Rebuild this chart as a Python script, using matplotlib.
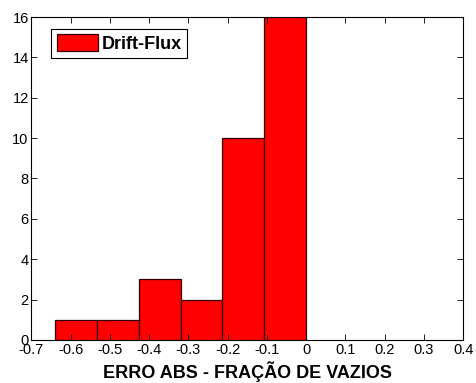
import matplotlib
matplotlib.use("Agg")
import matplotlib.pyplot as plt
import numpy as np

bin_edges = [-0.641, -0.534, -0.427, -0.320, -0.214, -0.107, 0.0]
counts = [1, 1, 3, 2, 10, 16]
xticks = [-0.7, -0.6, -0.5, -0.4, -0.3, -0.2, -0.1, 0, 0.1, 0.2, 0.3, 0.4]
xticklabels = ["-0.7", "-0.6", "-0.5", "-0.4", "-0.3", "-0.2", "-0.1", "0", "0.1", "0.2", "0.3", "0.4"]
yticks = [0, 2, 4, 6, 8, 10, 12, 14, 16]

plt.rcParams['font.family'] = ['Liberation Sans', 'DejaVu Sans']

fig = plt.figure(figsize=(4.76, 3.83), dpi=100)
ax = fig.add_axes([0.066, 0.1123, 0.907, 0.8433])

left = np.array(bin_edges[:-1])
widths = np.diff(bin_edges)
ax.bar(left, counts, width=widths, align='edge', color='#ff0000',
       edgecolor='#300000', linewidth=0.9, label='Drift-Flux')

ax.set_xlim(-0.7, 0.4)
ax.set_ylim(0, 16)
ax.set_xticks(xticks)
ax.set_xticklabels(xticklabels)
ax.set_yticks(yticks)
ax.tick_params(direction='in', top=True, right=True, labelsize=10.5, length=4, width=0.6, pad=2)
for s in ax.spines.values():
    s.set_linewidth(0.8)
ax.set_xlabel('ERRO ABS - FRAÇÃO DE VAZIOS', fontsize=13, fontweight='bold', labelpad=3)

leg = ax.legend(loc='upper left', bbox_to_anchor=(0.046, 0.963), prop={'weight': 'bold', 'size': 13},
                fancybox=False, edgecolor='black', framealpha=1, borderpad=0.3,
                handlelength=2.3, handleheight=1.0, handletextpad=0.2, borderaxespad=0.0)
leg.get_frame().set_linewidth(0.8)

fig.savefig('out.png', dpi=100)
